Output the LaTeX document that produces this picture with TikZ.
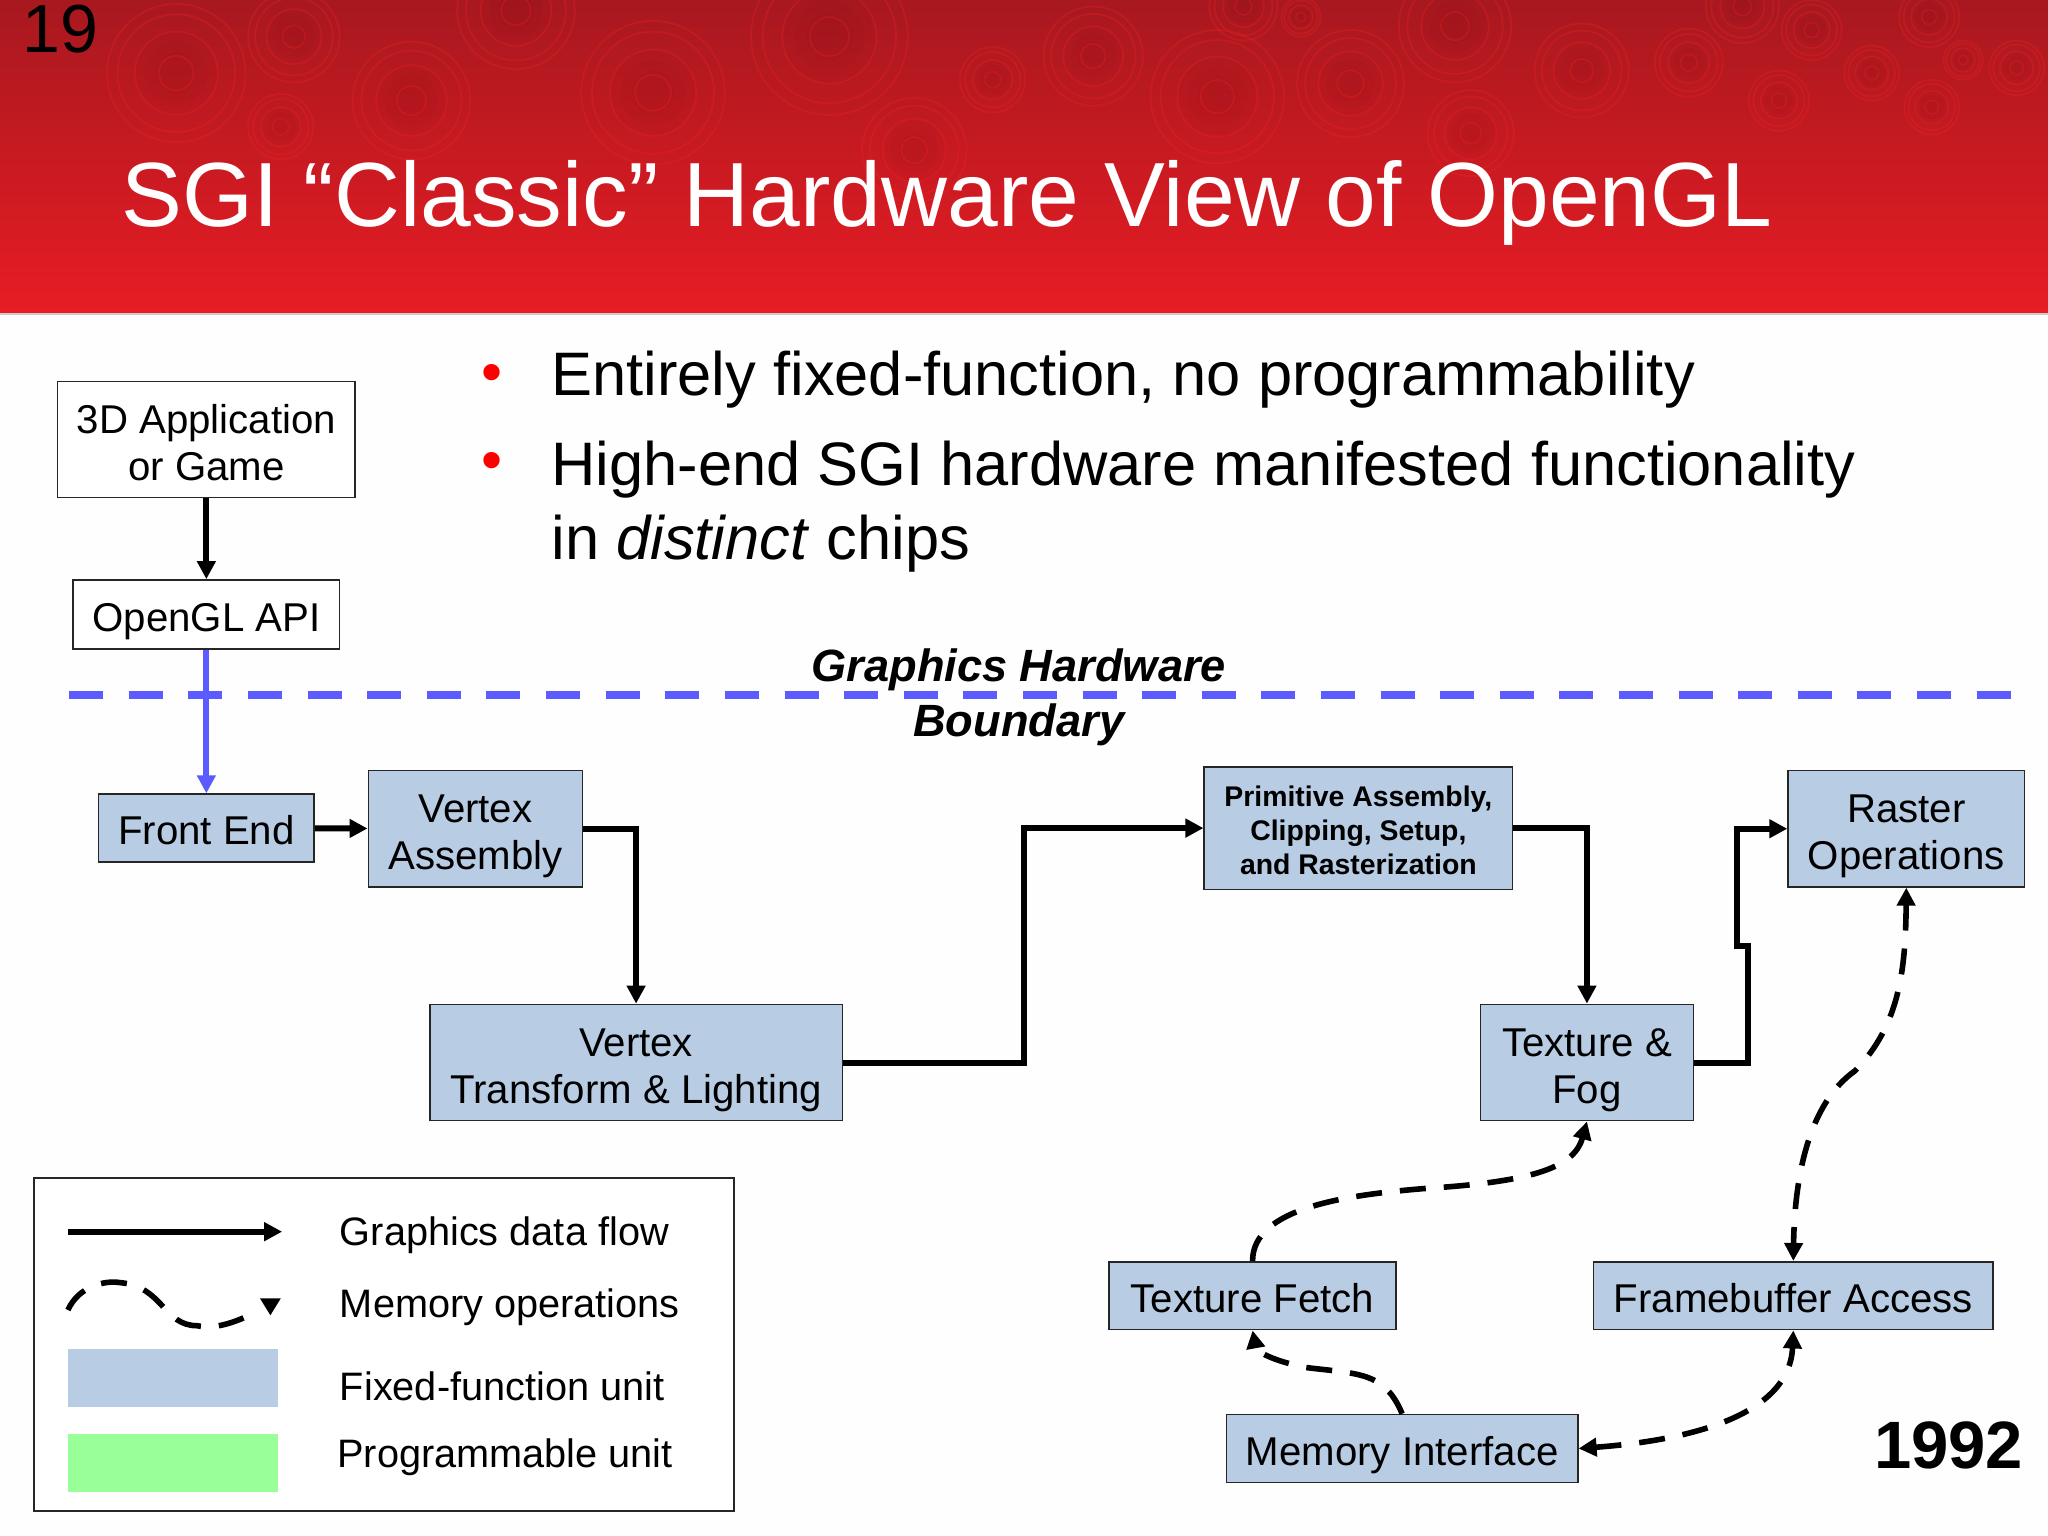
\documentclass[tikz,border=0pt]{standalone}
\usepackage{fontspec}
\setmainfont{Liberation Sans}
\usetikzlibrary{arrows.meta}
\definecolor{fixedblue}{HTML}{B8CCE4}
\definecolor{progreen}{HTML}{99FF99}
\definecolor{bounds}{HTML}{5B5BFF}
\definecolor{slidetop}{HTML}{A8181F}
\definecolor{slidebot}{HTML}{E81C24}
\def\u{0.653pt}
\tikzset{
  unit/.style 2 args={draw=black!85, line width=0.8pt, fill=fixedblue, align=center, inner sep=0pt,
    minimum width=#1*\u, minimum height=#2*\u},
  sw/.style 2 args={unit={#1}{#2}, fill=white},
  big/.style={font=\fontsize{20.1}{23.7}\selectfont,
    execute at begin node={\rule{0pt}{21.8pt}}, execute at end node={\rule[-5pt]{0pt}{5pt}}},
  bigtwo/.style={font=\fontsize{20.1}{23.7}\selectfont,
    execute at begin node={\rule{0pt}{46pt}}, execute at end node={\rule[-5pt]{0pt}{5pt}}},
  small/.style={font=\bfseries\fontsize{14.2}{17}\selectfont,
    execute at begin node={\rule{0pt}{51pt}}, execute at end node={\rule[-4.2pt]{0pt}{4.2pt}}},
  flow/.style={line width=3pt, -{Triangle[length=9pt,width=9pt]}},
  memdash/.style={line width=2.8pt, dash pattern=on 13pt off 9pt},
  mem/.style={memdash, -{Triangle[length=9pt,width=9pt]}},
  membi/.style={memdash, {Triangle[length=9pt,width=9pt]}-{Triangle[length=9pt,width=9pt]}},
  key/.style={anchor=west, inner sep=0pt, font=\fontsize{19.85}{24}\selectfont},
  body/.style={anchor=west, align=left, inner sep=0pt, font=\fontsize{30.7}{37.3}\selectfont},
}
\begin{document}
\begin{tikzpicture}[x=\u,y=-\u]
\useasboundingbox (0,0) rectangle (1568,1176);
\fill [white!99.5!black] (0,0) rectangle (1568,1176);
% header
\shade [top color=slidetop, bottom color=slidebot, middle color=slidetop!50!slidebot] (0,0) rectangle (1568,240);
\begin{scope}
\clip (0,0) rectangle (1568,240);
\foreach \cx/\cy/\rr in {135/56/53,225/28/35,315/77/45,395/8/45,500/71/55,635/28/60,215/97/25,700/115/40,760/61/25,837/43/38,932/74/51,1034/64/41,1114/20/43,952/5/26,996/13/15,1211/54/36,1293/48/26,1126/102/33,1334/5/28,1387/23/23,1433/56/21,1477/13/23,1544/52/21,1503/46/15,1479/82/21,1362/77/23}{
  \foreach \k in {0.3,0.45,0.6}
    \fill [black, opacity=0.015] (\cx,\cy) circle ({\rr*\k});
  \foreach \k in {0.25,0.6,0.85,1}
    \draw [red!85!white, opacity=0.22, line width=0.9pt] (\cx,\cy) circle ({\rr*\k});
}
\end{scope}
\fill [white!80!black] (0,240) rectangle (1568,241);
\node (num) at (46,22) {\fontsize{34}{34}\selectfont 19};
\node [white] (title) at (725,155) {\fontsize{45.6}{46}\selectfont SGI “Classic” Hardware View of OpenGL};
% bullets
\node [red] (b1) at (377,290) {\fontsize{30}{30}\selectfont •};
\node [red] (b2) at (377,357) {\fontsize{30}{30}\selectfont •};
\node [body] (t1) at (422,291) {Entirely fixed-function, no programmability};
\node [body] (t2) at (422,388) {High-end SGI hardware manifested functionality\\in \textit{distinct} chips};
% boxes
\node [sw={228}{89}, bigtwo] (app) at (158,336.5) {3D Application\\or Game};
\node [sw={204}{53}, big] (api) at (158,470.5) {OpenGL API};
\node [unit={165}{52}, big] (front) at (158,634) {Front End};
\node [unit={164}{89}, bigtwo] (vasm) at (364,634.5) {Vertex\\Assembly};
\node [unit={316}{89}, bigtwo] (vtl) at (487,813.5) {Vertex\\Transform \& Lighting};
\node [unit={236}{94}, small] (prim) at (1040,634) {Primitive Assembly,\\Clipping, Setup,\\and Rasterization};
\node [unit={163}{89}, bigtwo] (texfog) at (1215,813.5) {Texture \&\\Fog};
\node [unit={181}{89}, bigtwo] (raster) at (1459.5,634.5) {Raster\\Operations};
\node [unit={220}{52}, big] (fetch) at (959,992) {Texture Fetch};
\node [unit={306}{52}, big] (fb) at (1373,992) {Framebuffer Access};
\node [unit={269}{52}, big] (memif) at (1073.5,1109) {Memory Interface};
% boundary
\draw [bounds, line width=4pt, dash pattern=on 17pt off 12.8pt] (53,532) coordinate (bl) -- (1540,532) coordinate (br);
\node [align=center, font=\bfseries\itshape\fontsize{22.6}{27.4}\selectfont] (bound) at (780,534) {Graphics Hardware\\Boundary};
% data flow
\draw [flow] (app) -- (api);
\draw [bounds, flow] (api) -- (front);
\draw [flow] (front) -- (vasm);
\draw [flow] (vasm.east) -| (vtl.north);
\draw [flow] (vtl.east) -- ++(138,0) |- (prim.west);
\draw [flow] (prim.east) -| (texfog.north);
\draw [flow] (texfog.east) -- ++(41,0) -- ++(0,-89) -- ++(-8,0) |- (raster.west);
% memory
\draw [mem] (fetch.north) .. controls (959,925) and (1030,915) .. (1090,910) .. controls (1170,905) and (1205,895) .. (texfog.south);
\draw [mem] (memif.north) .. controls (1060,1050) and (1040,1052) .. (1000,1047) .. controls (975,1042) and (962,1035) .. (fetch.south);
\draw [membi] (raster.south) .. controls (1459,740) and (1455,785) .. (1420,820) .. controls (1385,845) and (1374,900) .. (fb.north);
\draw [membi] (memif.east) .. controls (1290,1103) and (1370,1085) .. (fb.south);
% legend
\node [sw={536}{255}] (legend) at (294,1029.5) {};
\coordinate (k1) at (52,943);
\coordinate (k2) at (216,943);
\draw [flow] (k1) -- (k2);
\coordinate (w1) at (52,1003);
\coordinate (w2) at (92,982);
\coordinate (w3) at (151,1015);
\coordinate (w4) at (191,1007);
\draw [memdash] (w1) .. controls (60,985) and (80,980) .. (w2) .. controls (125,985) and (125,1015) .. (w3) .. controls (165,1018) and (180,1012) .. (w4);
\fill (199,994) -- (215,994) -- (207,1007) -- cycle;
\node [unit={161}{44}, draw=none] (fixed) at (132.5,1055) {};
\node [unit={161}{44}, draw=none, fill=progreen] (prog) at (132.5,1120) {};
\node [key] (l1) at (260,946) {Graphics data flow};
\node [key] (l2) at (260,1001) {Memory operations};
\node [key] (l3) at (260,1061) {Fixed-function unit};
\node [key] (l4) at (258,1116) {Programmable unit};
\node [font=\bfseries\fontsize{33.5}{33.5}\selectfont] (year) at (1492,1107) {1992};
\end{tikzpicture}
\end{document}
